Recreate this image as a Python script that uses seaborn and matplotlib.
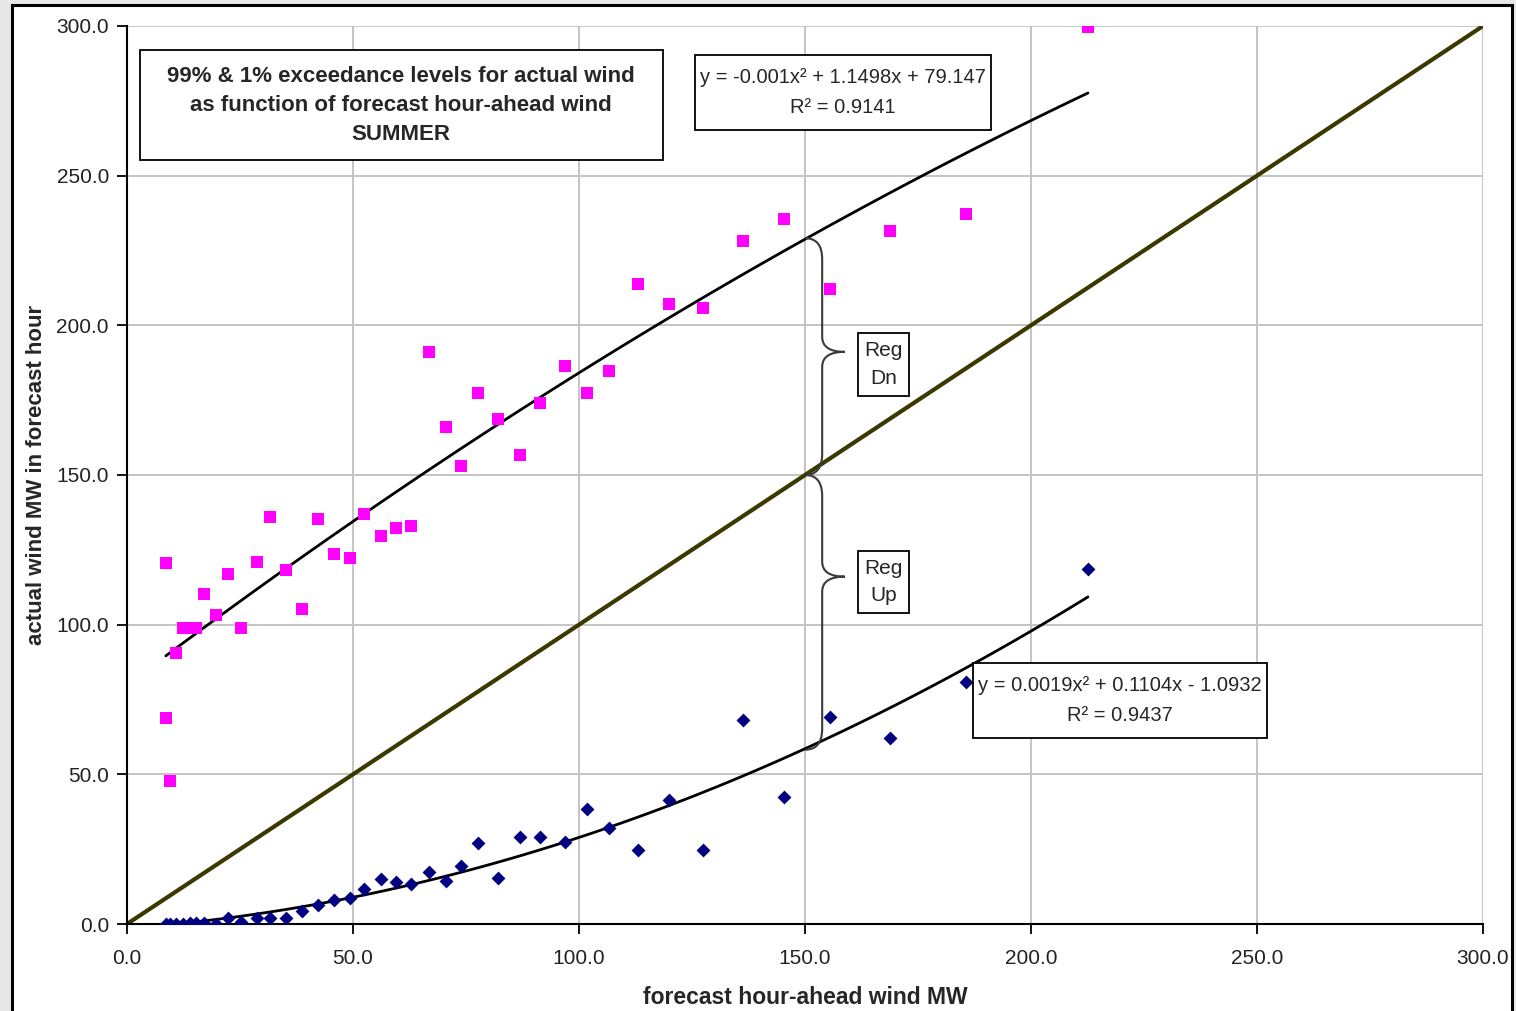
import numpy as np
import pandas as pd
import matplotlib.pyplot as plt
import seaborn as sns
from matplotlib.patches import Rectangle, PathPatch
from matplotlib.path import Path

# forecast hour-ahead wind (MW) and 99% / 1% exceedance levels of actual wind
pink_x = [8.6, 8.6, 9.5, 10.8, 12.4, 13.9, 15.3, 17.0, 19.7, 22.4, 25.2, 28.8, 31.6,
          35.2, 38.7, 42.3, 45.8, 49.3, 52.4, 56.2, 59.5, 62.8, 66.8, 70.6, 73.9,
          77.7, 82.1, 87.0, 91.4, 96.9, 101.8, 106.6, 113.1, 119.9, 127.4, 136.3,
          145.4, 155.5, 168.8, 185.6, 212.6]
pink_y = [120.6, 68.8, 47.8, 90.5, 98.9, 98.9, 98.9, 110.3, 103.2, 116.9, 98.9, 120.9,
          136.0, 118.3, 105.2, 135.3, 123.6, 122.3, 137.0, 129.6, 132.3, 133.0, 191.1,
          166.1, 153.0, 177.4, 168.7, 156.7, 174.1, 186.4, 177.4, 184.8, 213.8, 207.1,
          205.8, 228.2, 235.5, 212.2, 231.5, 237.2, 299.7]

blue_x = [8.6, 9.5, 10.8, 12.4, 13.9, 15.3, 17.0, 19.7, 22.4, 25.2, 28.8, 31.6,
          35.2, 38.7, 42.3, 45.8, 49.3, 52.4, 56.2, 59.5, 62.8, 66.8, 70.6, 73.9,
          77.7, 82.1, 87.0, 91.4, 96.9, 101.8, 106.6, 113.1, 119.9, 127.4, 136.3,
          145.4, 155.5, 168.8, 185.6, 212.6]
blue_y = [0.0, 0.0, 0.0, 0.0, 0.3, 0.3, 0.3, 0.0, 2.0, 0.7, 2.0, 2.0, 2.0, 4.3, 6.3,
          8.0, 8.7, 11.7, 15.0, 14.0, 13.4, 17.4, 14.4, 19.4, 27.1, 15.4, 29.1, 29.1,
          27.4, 38.4, 32.1, 24.7, 41.4, 24.7, 68.2, 42.4, 69.2, 62.1, 80.9, 118.6]

diag = [0, 300]

# trendline equations printed on the chart
upper_coef = [-0.001, 1.1498, 79.147]
lower_coef = [0.0019, 0.1104, -1.0932]
upper_eq = "y = -0.001x² + 1.1498x + 79.147\nR² = 0.9141"
lower_eq = "y = 0.0019x² + 0.1104x - 1.0932\nR² = 0.9437"
title_txt = "99% & 1% exceedance levels for actual wind\nas function of forecast hour-ahead wind\nSUMMER"

ticks = [0, 50, 100, 150, 200, 250, 300]
tick_labels = [f"{t:.1f}" for t in ticks]

sns.set_style("ticks")
plt.rcParams["font.family"] = ["Liberation Sans", "DejaVu Sans"]

W, H = 1516, 1011
fig = plt.figure(figsize=(W / 100, H / 100), dpi=100, facecolor="#e8e8e8")
fig.add_artist(Rectangle((12 / W, -0.02), 1500 / W, 1.02 - 5 / H, transform=fig.transFigure,
                         facecolor="white", edgecolor="black", lw=2.2, zorder=0))

ax = fig.add_axes([127 / W, 1 - 924 / H, 1356 / W, 898 / H])
ax.set_facecolor("white")

sns.lineplot(x=diag, y=diag, color="#3b3800", lw=3, ax=ax, zorder=2)
sns.regplot(x=pink_x, y=pink_y, order=2, ci=None, scatter=False, truncate=True,
            line_kws=dict(color="black", lw=2), ax=ax)
sns.regplot(x=blue_x, y=blue_y, order=2, ci=None, scatter=False, truncate=True,
            line_kws=dict(color="black", lw=2), ax=ax)
sns.scatterplot(x=pink_x, y=pink_y, marker="s", s=65, color="#ff00ff", linewidth=0,
                ax=ax, zorder=4)
sns.scatterplot(x=blue_x, y=blue_y, marker="D", s=50, color="#000080", linewidth=0,
                ax=ax, zorder=4)

ax.set_xlim(0, 300)
ax.set_ylim(0, 300)
ax.set_xticks(ticks, tick_labels)
ax.set_yticks(ticks, tick_labels)
ax.tick_params(length=7, width=1.3, labelsize=15, color="black", labelcolor="#222222")
ax.tick_params(axis="x", pad=11)
ax.tick_params(axis="y", pad=6)
ax.grid(True, color="#c4c4c4", lw=1.4)
ax.set_axisbelow(True)
for s in ["top", "right"]:
    ax.spines[s].set_visible(False)
for s in ["left", "bottom"]:
    ax.spines[s].set_color("black")
    ax.spines[s].set_linewidth(1.5)
ax.set_xlabel("forecast hour-ahead wind MW", fontsize=16.5, fontweight="bold", labelpad=13)
ax.set_ylabel("actual wind MW in forecast hour", fontsize=16, fontweight="bold", labelpad=7)


# text boxes (axes fraction)
def box(x0, y0, x1, y1, txt, size, weight="normal", ls=1.3):
    ax.add_patch(Rectangle((x0, y0), x1 - x0, y1 - y0, transform=ax.transAxes,
                           facecolor="white", edgecolor="black", lw=1.3, zorder=6))
    ax.text((x0 + x1) / 2, (y0 + y1) / 2, txt, transform=ax.transAxes, ha="center",
            va="center", multialignment="center", fontsize=size, fontweight=weight,
            linespacing=ls, zorder=7)


box(0.0096, 0.851, 0.395, 0.973, title_txt, 16, "bold", 1.5)
box(0.419, 0.884, 0.637, 0.968, upper_eq, 14.5, ls=1.75)
box(0.624, 0.207, 0.841, 0.291, lower_eq, 14.5, ls=1.75)
box(0.539, 0.588, 0.577, 0.658, "Reg\nDn", 15, ls=1.55)
box(0.539, 0.346, 0.577, 0.415, "Reg\nUp", 15, ls=1.55)


# curly braces at forecast = 150 MW
def brace(top, bot, frac, x0=150.0, x1=153.8, x2=158.8, d=7, dt=5):
    tip = top - frac * (top - bot)
    verts = [(x0, top), (x1, top), (x1, top - d), (x1, tip + dt),
             (x1, tip), (x2, tip), (x1, tip), (x1, tip - dt),
             (x1, bot + d), (x1, bot), (x0, bot)]
    codes = [Path.MOVETO, Path.CURVE3, Path.CURVE3, Path.LINETO,
             Path.CURVE3, Path.CURVE3, Path.CURVE3, Path.CURVE3,
             Path.LINETO, Path.CURVE3, Path.CURVE3]
    ax.add_patch(PathPatch(Path(verts, codes), facecolor="none", edgecolor="#3a3a3a",
                           lw=1.5, zorder=5))


xb = 150.0
brace(np.polyval(upper_coef, xb), xb, 0.48)
brace(xb, np.polyval(lower_coef, xb), 0.37)

fig.savefig("out.png", dpi=100, facecolor=fig.get_facecolor())
